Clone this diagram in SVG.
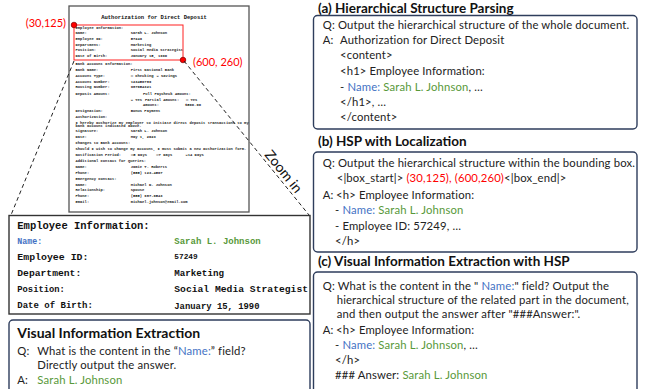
<svg xmlns="http://www.w3.org/2000/svg" width="646" height="389" viewBox="0 0 646 389">
<defs>
<style>
.doc{font-family:"Liberation Mono","DejaVu Sans Mono",monospace;font-weight:bold;font-size:3.8px;fill:#222}
.zm{font-family:"Liberation Mono","DejaVu Sans Mono",monospace;font-weight:bold;fill:#111}
.t{font-family:Lato,"Open Sans","Liberation Sans",sans-serif;font-size:11.3px;letter-spacing:0.15px;fill:#222}
.ttl{font-family:Lato,"Open Sans","Liberation Sans",sans-serif;font-size:13.5px;font-weight:bold;fill:#111}
.box{fill:#fff;stroke:#2E3D5C;stroke-width:1.4}
.red{fill:#FF0000}
.blue{fill:#4472C4}
.green{fill:#58993A}
.dash{stroke:#222;stroke-width:1;stroke-dasharray:4 3;fill:none}
</style>
</defs>
<rect width="646" height="389" fill="#fff"/>

<g id="document">
<rect x="69" y="6" width="180" height="206" fill="#fff" stroke="#555" stroke-width="1.3"/>
<text x="154" y="19" text-anchor="middle" style="font-family:'Liberation Mono',monospace;font-weight:bold;font-size:5.5px;fill:#111">Authorization for Direct Deposit</text>
<g class="doc">
<text x="75.5" y="28.6">Employee Information:</text>
<text x="75.5" y="34">Name:</text><text x="130.7" y="34">Sarah L. Johnson</text>
<text x="75.5" y="40">Employee ID:</text><text x="130.7" y="40">57249</text>
<text x="75.5" y="45.6">Department:</text><text x="130.7" y="45.6">Marketing</text>
<text x="75.5" y="51.3">Position:</text><text x="130.7" y="51.3">Social Media Strategist</text>
<text x="75.5" y="57.3">Date of Birth:</text><text x="130.7" y="57.3">January 15, 1990</text>
<text x="75.5" y="65.3">Bank Account Information:</text>
<text x="75.5" y="71.3">Bank Name:</text><text x="130.7" y="71.3">First National Bank</text>
<text x="75.5" y="77">Account Type:</text><text x="130.7" y="77">☐ Checking</text><text x="156.5" y="77">☒ Savings</text>
<text x="75.5" y="82.6">Account Number:</text><text x="130.7" y="82.6">123456789</text>
<text x="75.5" y="88.3">Routing Number:</text><text x="130.7" y="88.3">987654321</text>
<text x="75.5" y="94.6">Deposit Amount:</text><text x="143" y="94.6">Full Paycheck Amount:</text>
<text x="130.7" y="100.6">☒ Yes</text><text x="145" y="100.6">Partial Amount:</text><text x="186" y="100.6">☐ Yes</text>
<text x="143" y="106.3">Amount:</text><text x="185" y="106.3">$500.00</text>
<text x="75.5" y="112.3">Designation:</text><text x="130.7" y="112.3">Bonus Payment</text>
<text x="75.5" y="118.3">Authorization:</text>
<text x="75.5" y="123.8">I hereby authorize my employer to initiate direct deposit transactions to my</text>
<text x="75.5" y="126.9">bank account indicated above.</text>
<text x="75.5" y="132.3">Signature:</text><text x="130.7" y="132.3">Sarah L. Johnson</text>
<text x="75.5" y="138">Date:</text><text x="130.7" y="138">May 1, 2023</text>
<text x="75.5" y="144">Changes to Bank Account:</text>
<text x="75.5" y="150.3">Should I wish to change my account, I must submit a new authorization form.</text>
<text x="75.5" y="156.3">Notification Period:</text><text x="131" y="156.3">☐5 Days</text><text x="156.3" y="156.3">☐7 Days</text><text x="185.5" y="156.3">☒14 Days</text>
<text x="75.5" y="162">Additional Contact for Queries:</text>
<text x="75.5" y="167.6">Name:</text><text x="130.7" y="167.6">Jamie T. Roberts</text>
<text x="75.5" y="173.6">Phone:</text><text x="130.7" y="173.6">(555) 123-4567</text>
<text x="75.5" y="179.6">Emergency Contact:</text>
<text x="75.5" y="185.6">Name:</text><text x="130.7" y="185.6">Michael D. Johnson</text>
<text x="75.5" y="191.3">Relationship:</text><text x="130.7" y="191.3">Spouse</text>
<text x="75.5" y="197">Phone:</text><text x="130.7" y="197">(555) 987-6543</text>
<text x="75.5" y="203">Email:</text><text x="130.7" y="203">michael.johnson@email.com</text>
</g>
<rect x="74" y="25" width="109" height="35" fill="none" stroke="#FF2020" stroke-width="1"/>
<circle cx="74" cy="25" r="2.8" fill="#FF0000" stroke="#700" stroke-width="0.7"/>
<circle cx="183" cy="60" r="2.8" fill="#FF0000" stroke="#700" stroke-width="0.7"/>
<text x="66" y="26.5" text-anchor="end" class="red" style="font-family:Lato,'Open Sans',sans-serif;font-size:11px">(30,125)</text>
<text x="193" y="65.5" class="red" style="font-family:Lato,'Open Sans',sans-serif;font-size:11px">(600, 260)</text>
</g>

<g id="connectors">
<line x1="74" y1="61" x2="11" y2="215" class="dash"/>
<line x1="184" y1="61" x2="309" y2="215" class="dash"/>
<text x="283" y="176" text-anchor="middle" transform="rotate(51 283 172)" style="font-family:Lato,'Open Sans',sans-serif;font-size:14px;fill:#111">Zoom in</text>
</g>

<g id="zoomed-region">
<rect x="9" y="215.5" width="301" height="98.5" fill="#fff" stroke="#333" stroke-width="1.4"/>
<text x="17.3" y="228.5" class="zm" style="font-size:10.5px">Employee Information:</text>
<text x="17.3" y="243.5" class="zm" style="font-size:8.3px;fill:#4472C4">Name:</text>
<text x="174.3" y="243.5" class="zm" style="font-size:9px;fill:#58993A">Sarah L. Johnson</text>
<text x="17.3" y="260" class="zm" style="font-size:9.9px">Employee ID:</text>
<text x="174.3" y="259" class="zm" style="font-size:7.8px">57249</text>
<text x="17.3" y="276" class="zm" style="font-size:9.7px">Department:</text>
<text x="174.3" y="276" class="zm" style="font-size:9.2px">Marketing</text>
<text x="17.3" y="291.5" class="zm" style="font-size:8.8px">Position:</text>
<text x="174.3" y="292" class="zm" style="font-size:9.7px">Social Media Strategist</text>
<text x="17.3" y="308.3" class="zm" style="font-size:9px">Date of Birth:</text>
<text x="174.3" y="309" class="zm" style="font-size:8.9px">January 15, 1990</text>
</g>

<g id="vie-panel">
<rect x="9" y="320" width="301" height="84" rx="4" class="box"/>
<text x="17.3" y="337.5" class="ttl" style="font-size:14px">Visual Information Extraction</text>
<text x="17.3" y="355" class="t">Q:</text>
<text x="37.3" y="355" class="t">What is the content in the “<tspan class="blue">Name:</tspan>” field?</text>
<text x="37.3" y="369" class="t">Directly output the answer.</text>
<text x="17.3" y="384" class="t">A:</text>
<text x="37.3" y="384" class="t green">Sarah L. Johnson</text>
</g>

<g id="panel-a">
<text x="318" y="12.5" class="ttl">(a) Hierarchical Structure Parsing</text>
<rect x="313.5" y="15.5" width="323.5" height="113.5" rx="4" class="box"/>
<text x="322.7" y="28.5" class="t">Q: Output the hierarchical structure of the whole document.</text>
<text x="322.7" y="44" class="t">A:</text>
<text x="340" y="44" class="t">Authorization for Direct Deposit</text>
<text x="340" y="58.5" class="t">&lt;content&gt;</text>
<text x="340" y="74.5" class="t">&lt;h1&gt; Employee Information:</text>
<text x="340" y="90.5" class="t">- <tspan class="blue">Name:</tspan> <tspan class="green">Sarah L. Johnson</tspan>, …</text>
<text x="340" y="105.5" class="t">&lt;/h1&gt;, …</text>
<text x="340" y="120.5" class="t">&lt;/content&gt;</text>
</g>

<g id="panel-b">
<text x="318" y="146" class="ttl">(b) HSP with Localization</text>
<rect x="313.5" y="152" width="323.5" height="100" rx="4" class="box"/>
<text x="322.7" y="167" class="t">Q: Output the hierarchical structure within the bounding box.</text>
<text x="336.7" y="182" class="t">&lt;|box_start|&gt; <tspan class="red">(30,125), (600,260)</tspan>&lt;|box_end|&gt;</text>
<text x="322.7" y="199" class="t">A:</text>
<text x="336" y="199" class="t">&lt;h&gt; Employee Information:</text>
<text x="335" y="214" class="t">- <tspan class="blue">Name:</tspan> <tspan class="green">Sarah L. Johnson</tspan></text>
<text x="335" y="229.5" class="t">- Employee ID: 57249, …</text>
<text x="335" y="245" class="t">&lt;/h&gt;</text>
</g>

<g id="panel-c">
<text x="318" y="266" class="ttl">(c) Visual Information Extraction with HSP</text>
<rect x="313.5" y="272" width="323.5" height="130" rx="4" class="box"/>
<text x="322.7" y="290" class="t">Q: What is the content in the " <tspan class="blue">Name:</tspan>" field? Output the</text>
<text x="336.7" y="304" class="t">hierarchical structure of the related part in the document,</text>
<text x="336.7" y="318" class="t">and then output the answer after "###Answer:".</text>
<text x="322.7" y="334" class="t">A:</text>
<text x="336" y="334" class="t">&lt;h&gt; Employee Information:</text>
<text x="335" y="349" class="t">- <tspan class="blue">Name:</tspan> <tspan class="green">Sarah L. Johnson</tspan>, …</text>
<text x="335" y="364" class="t">&lt;/h&gt;</text>
<text x="335" y="379" class="t">### Answer: <tspan class="green">Sarah L. Johnson</tspan></text>
</g>
</svg>
